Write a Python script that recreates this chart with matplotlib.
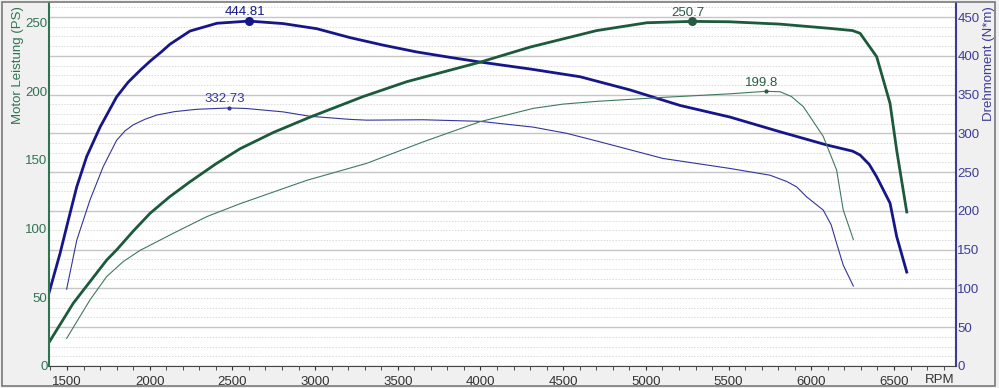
#!/usr/bin/env python3
# Leistungsdiagramm: Motor Leistung (PS) und Drehmoment (N*m) ueber RPM

import matplotlib
matplotlib.use('Agg')
import matplotlib.pyplot as plt
from matplotlib.ticker import MultipleLocator
from matplotlib.patches import Rectangle

plt.rcParams['font.family'] = ['Liberation Sans', 'DejaVu Sans']

# --- Daten ---
rpm_nm_thick = [1391, 1458, 1508, 1559, 1619, 1700, 1800, 1870, 1941, 2002, 2070, 2123,
                2244, 2407, 2600, 2806, 3010, 3211, 3413, 3614, 3816, 3997, 4300, 4602,
                4904, 5206, 5508, 5811, 6093, 6250, 6295, 6350, 6395, 6476, 6516, 6577]
nm_thick = [94, 145, 188, 231, 270, 308, 347, 366, 381, 393, 405, 415,
            432, 442, 444.81, 441.6, 435, 423.5, 413.7, 405, 398, 392, 383, 373,
            356, 336, 321, 302, 285, 277, 272, 260, 244, 210, 167, 121]

rpm_nm_thin = [1498, 1559, 1639, 1719, 1800, 1850, 1901, 1970, 2042, 2150, 2284, 2480,
               2586, 2806, 2969, 3211, 3312, 3653, 3997, 4319, 4521, 4723, 5103, 5508,
               5750, 5850, 5911, 5972, 6072, 6120, 6153, 6193, 6254]
nm_thin = [99, 162, 214, 257, 291, 303, 311, 318, 323.5, 328, 331, 332.73,
           332, 327.7, 322, 318, 317, 317.5, 315.5, 308, 300, 289, 267.6, 254.7,
           246, 238, 231, 218, 201, 182, 158, 130, 103]

rpm_ps_thick = [1391, 1538, 1740, 1800, 1900, 2002, 2120, 2244, 2400, 2546, 2750, 2969,
                3291, 3554, 3997, 4300, 4702, 5005, 5281, 5508, 5811, 6113, 6250, 6295,
                6395, 6476, 6516, 6577]
ps_thick = [17, 45.6, 77, 84.4, 98, 111, 123, 134, 147, 158, 170, 181,
            196, 206.8, 221, 232, 244, 249.7, 250.7, 250.4, 248.7, 245.6, 244, 242,
            225, 191, 157, 112]

rpm_ps_thin = [1498, 1639, 1740, 1841, 1941, 2143, 2345, 2546, 2949, 3312, 3653, 3997,
               4319, 4500, 4702, 5105, 5508, 5724, 5811, 5880, 5952, 6072, 6153, 6193,
               6254]
ps_thin = [20, 48, 65, 76, 84, 96.5, 108.6, 118, 135, 147.4, 163, 177.7,
           187.4, 190.5, 192.5, 195.4, 198, 199.8, 199.5, 196, 188.6, 167, 142.5, 113.5,
           92]

x_ticks = [1500, 2000, 2500, 3000, 3500, 4000, 4500, 5000, 5500, 6000, 6500]

C_BLUE = '#16168a'
C_BLUE_THIN = '#34349c'
C_GREEN = '#1b5a3b'
C_GREEN_THIN = '#3f7a5e'
C_LEFT = '#2f7352'
C_RIGHT = '#3c3c96'

fig = plt.figure(figsize=(9.99, 3.88), dpi=100)
fig.patch.set_facecolor('#f0f0f0')
ax = fig.add_axes([0.049, 0.057, 0.908, 0.935])
ax2 = ax.twinx()

# Leistung links oben, Drehmoment rechts darunter (Grid hinten)
ax.set_zorder(ax2.get_zorder() + 1)
ax.patch.set_visible(False)
ax2.patch.set_visible(True)
ax2.set_facecolor('white')

ax.set_xlim(1391, 6875)
ax.set_ylim(0, 264)
ax2.set_ylim(0, 468)

ax2.xaxis.set_major_locator(MultipleLocator(500))
ax2.xaxis.set_minor_locator(MultipleLocator(100))
ax2.yaxis.set_major_locator(MultipleLocator(50))
ax2.yaxis.set_minor_locator(MultipleLocator(12.5))
ax2.grid(which='major', axis='both', color='#c6c6c6', lw=1.0, ls='-')
ax2.grid(which='minor', axis='both', color='#dadada', lw=0.7, ls=(0, (1.5, 1.5)))

# Kurven
ax2.plot(rpm_nm_thick, nm_thick, color=C_BLUE, lw=2.0)
ax2.plot(rpm_nm_thin, nm_thin, color=C_BLUE_THIN, lw=0.8)
ax.plot(rpm_ps_thick, ps_thick, color=C_GREEN, lw=2.0)
ax.plot(rpm_ps_thin, ps_thin, color=C_GREEN_THIN, lw=0.8)

# Maxima markieren
def mark_max(a, xs, ys, color, big):
    i = max(range(len(ys)), key=lambda k: ys[k])
    a.plot(xs[i], ys[i], 'o', color=color, ms=5.5 if big else 2)
    a.annotate(f"{ys[i]:g}", (xs[i], ys[i]), xytext=(-3, 2), textcoords='offset points',
               ha='center', va='bottom', fontsize=9.5, color=color)

mark_max(ax2, rpm_nm_thick, nm_thick, C_BLUE, True)
mark_max(ax2, rpm_nm_thin, nm_thin, C_BLUE_THIN, False)
mark_max(ax, rpm_ps_thick, ps_thick, '#2a5a45', True)
mark_max(ax, rpm_ps_thin, ps_thin, '#2a5a45', False)

# Achsen
ax.set_xticks(x_ticks)
ax.xaxis.set_minor_locator(MultipleLocator(100))
ax.tick_params(axis='x', which='both', direction='out', length=3, colors='#333333',
               labelsize=9.5, pad=4)
ax.tick_params(axis='y', length=0, labelsize=9.5, labelcolor=C_LEFT, pad=1)
ax.set_yticks([0, 50, 100, 150, 200, 250])
ax2.set_yticks([0, 50, 100, 150, 200, 250, 300, 350, 400, 450])
ax2.tick_params(axis='y', which='both', length=0, labelsize=9.5, labelcolor=C_RIGHT, pad=1)
ax2.tick_params(axis='x', which='both', length=0)

for a in (ax, ax2):
    a.spines['top'].set_visible(False)
ax.spines['right'].set_visible(False)
ax.spines['left'].set_color(C_LEFT)
ax.spines['left'].set_linewidth(1.5)
ax2.spines['left'].set_visible(False)
ax2.spines['right'].set_color(C_RIGHT)
ax2.spines['right'].set_linewidth(1.5)
ax.spines['bottom'].set_color('#444444')
ax2.spines['bottom'].set_visible(False)

fig.text(0.018, 0.985, 'Motor Leistung (PS)', rotation=90, ha='center', va='top',
         fontsize=9.5, color=C_LEFT)
fig.text(0.9895, 0.985, 'Drehmoment (N*m)', rotation=90, ha='center', va='top',
         fontsize=9.5, color=C_RIGHT)
fig.text(0.941, 0.021, 'RPM', ha='center', va='center', fontsize=9.5, color='#333333')

fig.patches.append(Rectangle((0.002, 0.004), 0.994, 0.991, transform=fig.transFigure,
                             fill=False, edgecolor='#7a7a7a', lw=1.2))

plt.savefig('out.png', dpi=100)
plt.close()
